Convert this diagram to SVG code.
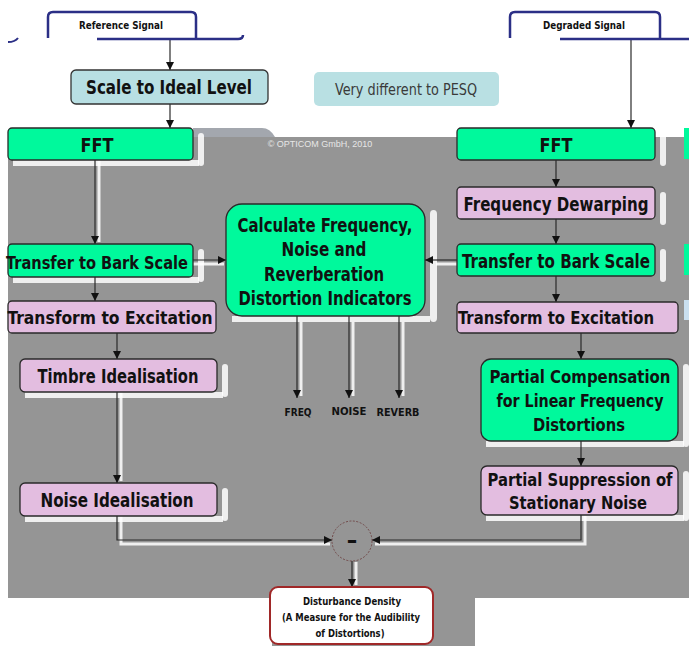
<svg xmlns="http://www.w3.org/2000/svg" width="689" height="646" viewBox="0 0 689 646">
<style>
.t{font-family:"Liberation Sans Narrow","DejaVu Sans Condensed","Liberation Sans",Arial,sans-serif;font-weight:bold;fill:#111;text-anchor:middle}
.g{fill:#00f99c;stroke:#2a2a2a;stroke-width:1.3}
.p{fill:#e3bde0;stroke:#2a2a2a;stroke-width:1.3}
.c{fill:#b8dfe3;stroke:#333;stroke-width:1.3}
.sh{fill:#ffffff;opacity:0.85}
.ln{stroke:#2a2a2a;stroke-width:1.2;fill:none}
.lnw{stroke:#ffffff;stroke-width:3;fill:none;opacity:0.85}
.tab{fill:#fff;stroke:#2b2f86;stroke-width:2.5}
</style>
<defs>
<marker id="ah" viewBox="0 0 10 10" refX="10" refY="5" markerWidth="8" markerHeight="8" orient="auto" markerUnits="userSpaceOnUse"><path d="M0,0 L10,5 L0,10 z" fill="#111"/></marker>
</defs>
<rect width="689" height="646" fill="#fff"/>
<g id="background">
<rect x="8" y="137" width="681" height="461" fill="#959595"/>
<rect x="272" y="597" width="203" height="49" fill="#959595"/>
<path d="M193,128 H262 Q270,128 275,137 H193 z" fill="#a3a7ae"/>
<text x="320" y="147" font-family="Liberation Sans Narrow,Liberation Sans,sans-serif" font-size="9" fill="#e6e6e6" text-anchor="middle">© OPTICOM GmbH, 2010</text>
<rect x="684" y="128" width="5" height="31" fill="#00f99c"/>
<rect x="684" y="244" width="5" height="31" fill="#00f99c"/>
<rect x="684" y="300" width="5" height="20" fill="#c9dff0"/>
</g>
<g id="shadows">
<rect class="sh" x="198" y="133" width="6" height="33" rx="3"/>
<rect class="sh" x="13" y="160" width="186" height="6"/>
<rect class="sh" x="198" y="249" width="6" height="33" rx="3"/>
<rect class="sh" x="13" y="277" width="186" height="6"/>
<rect class="sh" x="25" y="392" width="198" height="6"/>
<rect class="sh" x="222" y="364" width="6" height="33" rx="3"/>
<rect class="sh" x="25" y="516" width="198" height="6"/>
<rect class="sh" x="222" y="488" width="6" height="33" rx="3"/>
<rect class="sh" x="430" y="210" width="7" height="112" rx="4"/>
<rect class="sh" x="232" y="316" width="198" height="6"/>
<rect class="sh" x="660" y="133" width="6" height="33" rx="3"/>
<rect class="sh" x="660" y="192" width="6" height="33" rx="3"/>
<rect class="sh" x="660" y="249" width="6" height="33" rx="3"/>
<rect class="sh" x="683" y="364" width="6" height="83" rx="3"/>
<rect class="sh" x="683" y="471" width="6" height="50" rx="3"/>
<rect class="sh" x="486" y="441" width="198" height="6"/>
<rect class="sh" x="486" y="515" width="198" height="6"/>
<line class="lnw" x1="99" y1="160" x2="99" y2="242"/>
<line class="lnw" x1="121" y1="392" x2="121" y2="481"/>
<path class="lnw" d="M121,516 V544 H330"/>
<path class="lnw" d="M585,515 V544 H375"/>
<line class="lnw" x1="301" y1="322" x2="301" y2="396"/>
<line class="lnw" x1="353" y1="322" x2="353" y2="396"/>
<line class="lnw" x1="403" y1="322" x2="403" y2="396"/>
<line class="lnw" x1="356" y1="562" x2="356" y2="585"/>
<line class="lnw" x1="193" y1="264" x2="224" y2="264"/>
<line class="lnw" x1="457" y1="264" x2="436" y2="264"/>
</g>
<g id="connectors">
<line class="ln" x1="170" y1="39" x2="170" y2="70" marker-end="url(#ah)"/>
<line class="ln" x1="170" y1="104" x2="170" y2="128" marker-end="url(#ah)"/>
<line class="ln" x1="631" y1="39" x2="631" y2="128" marker-end="url(#ah)"/>
<line class="ln" x1="95" y1="160" x2="95" y2="244" marker-end="url(#ah)"/>
<line class="ln" x1="95" y1="277" x2="95" y2="301" marker-end="url(#ah)"/>
<line class="ln" x1="117" y1="333" x2="117" y2="359" marker-end="url(#ah)"/>
<line class="ln" x1="117" y1="392" x2="117" y2="483" marker-end="url(#ah)"/>
<path class="ln" d="M117,516 V540 H332" marker-end="url(#ah)"/>
<line class="ln" x1="556" y1="160" x2="556" y2="187" marker-end="url(#ah)"/>
<line class="ln" x1="556" y1="219" x2="556" y2="244" marker-end="url(#ah)"/>
<line class="ln" x1="556" y1="276" x2="556" y2="302" marker-end="url(#ah)"/>
<line class="ln" x1="581" y1="333" x2="581" y2="359" marker-end="url(#ah)"/>
<line class="ln" x1="581" y1="441" x2="581" y2="466" marker-end="url(#ah)"/>
<path class="ln" d="M581,515 V540 H372" marker-end="url(#ah)"/>
<line class="ln" x1="193" y1="260" x2="226" y2="260" marker-end="url(#ah)"/>
<line class="ln" x1="457" y1="260" x2="425" y2="260" marker-end="url(#ah)"/>
<line class="ln" x1="297" y1="316" x2="297" y2="398" marker-end="url(#ah)"/>
<line class="ln" x1="349" y1="316" x2="349" y2="398" marker-end="url(#ah)"/>
<line class="ln" x1="399" y1="316" x2="399" y2="398" marker-end="url(#ah)"/>
<line class="ln" x1="352" y1="561" x2="352" y2="587" marker-end="url(#ah)"/>
</g>
<g id="ref-signal">
<path class="tab" d="M48,38 V17 Q48,12 53,12 H191 Q196,12 196,17 V38"/>
<path d="M97,39 H238 Q243,39 243,35" fill="none" stroke="#2b2f86" stroke-width="2.5"/>
<path d="M8,42 Q15,42 18,38" fill="none" stroke="#2b2f86" stroke-width="2"/>
<text class="t" x="121" y="29" font-size="11" textLength="84" lengthAdjust="spacingAndGlyphs">Reference Signal</text>
</g>
<g id="deg-signal">
<path class="tab" d="M510,38 V17 Q510,12 515,12 H655 Q660,12 660,17 V38"/>
<path d="M560,39 H689" fill="none" stroke="#2b2f86" stroke-width="2.5"/>
<text class="t" x="584" y="29" font-size="11" textLength="82" lengthAdjust="spacingAndGlyphs">Degraded Signal</text>
</g>
<g id="scale">
<rect class="c" x="71" y="70" width="197" height="34" rx="5"/>
<text class="t" x="169" y="94" font-size="20" textLength="166" lengthAdjust="spacingAndGlyphs">Scale to Ideal Level</text>
</g>
<g id="note">
<rect x="314" y="72" width="185" height="34" rx="5" fill="#b9e0e3"/>
<text x="406" y="95" font-family="Liberation Sans Narrow,DejaVu Sans Condensed,Liberation Sans,sans-serif" font-size="16" fill="#3a3a3a" text-anchor="middle" textLength="142" lengthAdjust="spacingAndGlyphs">Very different to PESQ</text>
</g>
<g id="fft-l">
<rect class="g" x="8" y="128" width="185" height="32" rx="4"/>
<text class="t" x="97" y="152" font-size="20" textLength="33" lengthAdjust="spacingAndGlyphs">FFT</text>
</g>
<g id="bark-l">
<rect class="g" x="8" y="244" width="185" height="33" rx="4"/>
<text class="t" x="97" y="269" font-size="18" textLength="182" lengthAdjust="spacingAndGlyphs">Transfer to Bark Scale</text>
</g>
<g id="exc-l">
<rect class="p" x="8" y="301" width="208" height="32" rx="4"/>
<text class="t" x="110" y="324" font-size="18" textLength="205" lengthAdjust="spacingAndGlyphs">Transform to Excitation</text>
</g>
<g id="timbre">
<rect class="p" x="20" y="359" width="197" height="33" rx="5"/>
<text class="t" x="118" y="383" font-size="20" textLength="161" lengthAdjust="spacingAndGlyphs">Timbre Idealisation</text>
</g>
<g id="noise-l">
<rect class="p" x="20" y="483" width="197" height="33" rx="5"/>
<text class="t" x="117" y="507" font-size="20" textLength="153" lengthAdjust="spacingAndGlyphs">Noise Idealisation</text>
</g>
<g id="calc">
<rect class="g" x="226" y="204" width="199" height="112" rx="16"/>
<text class="t" x="325" y="232" font-size="19" textLength="175" lengthAdjust="spacingAndGlyphs">Calculate Frequency,</text>
<text class="t" x="324" y="256" font-size="19" textLength="85" lengthAdjust="spacingAndGlyphs">Noise and</text>
<text class="t" x="324" y="281" font-size="19" textLength="120" lengthAdjust="spacingAndGlyphs">Reverberation</text>
<text class="t" x="325" y="305" font-size="19" textLength="173" lengthAdjust="spacingAndGlyphs">Distortion Indicators</text>
</g>
<g id="outputs">
<text class="t" x="298" y="416" font-size="11" textLength="27" lengthAdjust="spacingAndGlyphs">FREQ</text>
<text class="t" x="349" y="415" font-size="11" textLength="35" lengthAdjust="spacingAndGlyphs">NOISE</text>
<text class="t" x="398" y="416" font-size="11" textLength="43" lengthAdjust="spacingAndGlyphs">REVERB</text>
</g>
<g id="fft-r">
<rect class="g" x="457" y="128" width="198" height="32" rx="4"/>
<text class="t" x="556" y="152" font-size="20" textLength="33" lengthAdjust="spacingAndGlyphs">FFT</text>
</g>
<g id="dewarp">
<rect class="p" x="457" y="187" width="198" height="32" rx="4"/>
<text class="t" x="556" y="211" font-size="20" textLength="185" lengthAdjust="spacingAndGlyphs">Frequency Dewarping</text>
</g>
<g id="bark-r">
<rect class="g" x="457" y="244" width="198" height="32" rx="4"/>
<text class="t" x="556" y="268" font-size="20" textLength="188" lengthAdjust="spacingAndGlyphs">Transfer to Bark Scale</text>
</g>
<g id="exc-r">
<rect class="p" x="457" y="302" width="221" height="31" rx="4"/>
<text class="t" x="556" y="324" font-size="18" textLength="196" lengthAdjust="spacingAndGlyphs">Transform to Excitation</text>
</g>
<g id="comp">
<rect class="g" x="481" y="359" width="197" height="82" rx="10"/>
<text class="t" x="580" y="383" font-size="18" textLength="181" lengthAdjust="spacingAndGlyphs">Partial Compensation</text>
<text class="t" x="580" y="407" font-size="18" textLength="167" lengthAdjust="spacingAndGlyphs">for Linear Frequency</text>
<text class="t" x="579" y="431" font-size="18" textLength="92" lengthAdjust="spacingAndGlyphs">Distortions</text>
</g>
<g id="suppr">
<rect class="p" x="481" y="466" width="197" height="49" rx="6"/>
<text class="t" x="580" y="486" font-size="18" textLength="185" lengthAdjust="spacingAndGlyphs">Partial Suppression of</text>
<text class="t" x="578" y="509" font-size="18" textLength="138" lengthAdjust="spacingAndGlyphs">Stationary Noise</text>
</g>
<g id="minus">
<circle cx="352" cy="541" r="20" fill="none" stroke="#6a3a3a" stroke-width="0.8" stroke-dasharray="2,1.5"/>
<text class="t" x="352" y="548" font-size="22" textLength="11" lengthAdjust="spacingAndGlyphs">-</text>
</g>
<g id="disturbance">
<rect x="270" y="587" width="163" height="57" rx="8" fill="#fff" stroke="#a02828" stroke-width="2"/>
<text class="t" x="352" y="605" font-size="11" textLength="98" lengthAdjust="spacingAndGlyphs">Disturbance Density</text>
<text class="t" x="351" y="621" font-size="11" textLength="138" lengthAdjust="spacingAndGlyphs">(A Measure for the Audibility</text>
<text class="t" x="350" y="637" font-size="11" textLength="69" lengthAdjust="spacingAndGlyphs">of Distortions)</text>
</g>
</svg>
